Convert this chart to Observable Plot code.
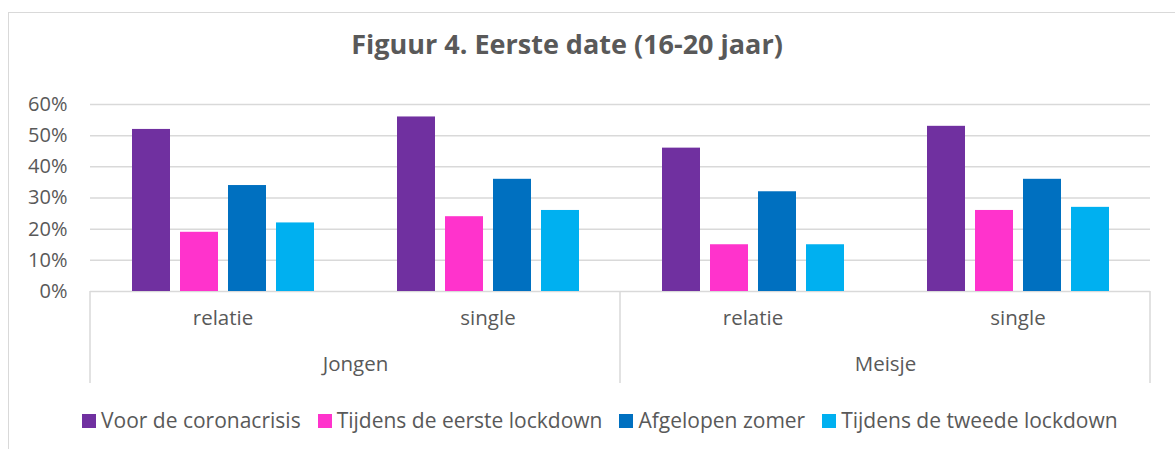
<!DOCTYPE html>
<html>
<head>
<meta charset="utf-8">
<script src="https://cdn.jsdelivr.net/npm/d3@7"></script>
<script src="https://cdn.jsdelivr.net/npm/@observablehq/plot@0.6"></script>
<style>
  html, body { margin: 0; padding: 0; background: #ffffff; }
  body { width: 1175px; height: 449px; position: relative; overflow: hidden; font-family: "Open Sans", sans-serif; color: #595959; }
  #frame { position: absolute; left: 8px; top: 12px; width: 1300px; height: 600px; border: 1.5px solid #d9d9d9; box-sizing: border-box; }
  #chart { position: absolute; left: 0; top: 0; }
  #title { position: absolute; left: 0; width: 1134px; top: 30px; text-align: center; font-weight: 700; font-size: 27px; line-height: 1; color: #595959; }
  #legend { position: absolute; left: 82px; top: 410px; display: flex; align-items: center; font-size: 21px; line-height: 1; color: #595959; white-space: nowrap; }
  .item { display: flex; align-items: center; margin-right: 17px; }
  .sw { width: 14px; height: 14px; margin-right: 5px; display: inline-block; }
</style>
</head>
<body>
<div id="frame"></div>
<div id="chart"></div>
<div id="title">Figuur 4. Eerste date (16-20 jaar)</div>
<div id="legend"></div>
<script>
// ---- data ----
const groupOf = ["Jongen", "Jongen", "Meisje", "Meisje"];
const subOf = ["relatie", "single", "relatie", "single"];
const seriesNames = ["Voor de coronacrisis", "Tijdens de eerste lockdown", "Afgelopen zomer", "Tijdens de tweede lockdown"];
const seriesColors = ["#7030A0", "#FF33CC", "#0070C0", "#00B0F0"];
const voorCorona = [52, 56, 46, 53];
const eersteLockdown = [19, 24, 15, 26];
const afgelopenZomer = [34, 36, 32, 36];
const tweedeLockdown = [22, 26, 15, 27];
const yTicks = [0, 0.1, 0.2, 0.3, 0.4, 0.5, 0.6];

// ---- build table ----
const seriesValues = [voorCorona, eersteLockdown, afgelopenZomer, tweedeLockdown];
const keys = groupOf.map((g, i) => g + "|" + subOf[i]);
const rows = [];
keys.forEach((k, i) => {
  seriesNames.forEach((s, j) => {
    rows.push({key: k, group: groupOf[i], sub: subOf[i], series: s, value: seriesValues[j][i] / 100});
  });
});
const subLabels = keys.map((k, i) => ({key: k, text: subOf[i]}));
const groupNames = Array.from(new Set(groupOf));
// group label is anchored at the left edge of the second sub-facet of each group (= group's centre)
const groupLabels = groupNames.map(g => ({key: keys[groupOf.lastIndexOf(g)], text: g}));

const chart = Plot.plot({
  width: 1175,
  height: 449,
  marginLeft: 89,
  marginRight: 25,
  marginTop: 104,
  marginBottom: 158,
  style: {background: "transparent", fontFamily: "Open Sans, sans-serif", fontSize: "20px", color: "#595959", overflow: "visible"},
  fx: {domain: keys, padding: 0, axis: null, label: null},
  x: {domain: seriesNames, paddingInner: 0.21, paddingOuter: 0.86, axis: null, label: null},
  y: {domain: [0, 0.6], ticks: yTicks, tickFormat: d3.format(".0%"), tickSize: 0, tickPadding: 23, label: null},
  color: {domain: seriesNames, range: seriesColors},
  marks: [
    Plot.ruleY(yTicks, {stroke: "#d9d9d9", strokeWidth: 1.5}),
    Plot.barY(rows, {fx: "key", x: "series", y: "value", fill: "series"}),
    Plot.text(subLabels, {fx: "key", text: "text", frameAnchor: "bottom", dy: 33, fill: "#595959", fontSize: 20.5}),
    Plot.text(groupLabels, {fx: "key", text: "text", frameAnchor: "bottom-left", textAnchor: "middle", dy: 79, fill: "#595959", fontSize: 20.5})
  ]
});
document.getElementById("chart").appendChild(chart);

// vertical separators of the multi-level category axis, placed via Plot's scales
const svg = chart.tagName.toLowerCase() === "svg" ? d3.select(chart) : d3.select(chart).select("svg");
const fxS = chart.scale("fx");
const yS = chart.scale("y");
const y0 = yS.apply(0);
const sepX = [];
groupNames.forEach(g => sepX.push(fxS.apply(keys[groupOf.indexOf(g)])));
sepX.push(fxS.apply(keys[keys.length - 1]) + fxS.bandwidth);
svg.append("g").selectAll("line").data(sepX).join("line")
  .attr("x1", d => d).attr("x2", d => d)
  .attr("y1", y0).attr("y2", y0 + 92)
  .attr("stroke", "#d9d9d9").attr("stroke-width", 1.5);

// legend
const legend = d3.select("#legend");
seriesNames.forEach((s, j) => {
  const it = legend.append("div").attr("class", "item");
  it.append("span").attr("class", "sw").style("background", seriesColors[j]);
  it.append("span").text(s);
});
</script>
</body>
</html>
